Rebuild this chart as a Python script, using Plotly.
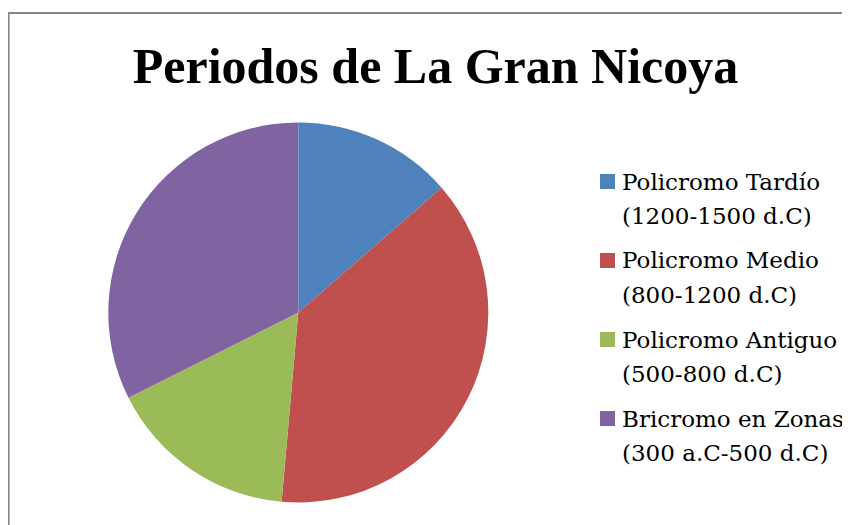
import plotly.graph_objects as go

# Data
names = ["Policromo Tardío", "Policromo Medio", "Policromo Antiguo", "Bricromo en Zonas"]
ranges = ["(1200-1500 d.C)", "(800-1200 d.C)", "(500-800 d.C)", "(300 a.C-500 d.C)"]
values = [13.6, 37.8, 16.2, 32.4]
colors = ["#4F81BD", "#C0504D", "#9BBB59", "#8064A2"]
title_text = "Periodos de La Gran Nicoya"

labels = [n + "<br>" + r for n, r in zip(names, ranges)]

# The page body has an 8px margin; work in screen pixels and convert.
OFF = 8
W, H = 842, 517


def px(x):
    return (x - OFF) / W


def py(y):
    return 1 - (y - OFF) / H


cx, cy, r = 298.3, 312.5, 190

fig = go.Figure(
    go.Pie(
        labels=labels,
        values=values,
        sort=False,
        direction="clockwise",
        rotation=0,
        textinfo="none",
        hoverinfo="label+percent",
        showlegend=False,
        marker=dict(colors=colors, line=dict(width=0)),
        domain=dict(x=[px(cx - r), px(cx + r)], y=[py(cy + r), py(cy - r)]),
    )
)

shapes = [
    dict(
        type="rect",
        xref="paper",
        yref="paper",
        x0=px(8.6),
        x1=1.2,
        y0=-0.2,
        y1=py(13),
        line=dict(color="#868686", width=2),
        fillcolor="rgba(0,0,0,0)",
        layer="above",
    )
]
annotations = []
legend_font = dict(family="DejaVu Serif", size=23, color="black")
for i, (n, rg, c) in enumerate(zip(names, ranges, colors)):
    yc = 181.5 + i * 79
    shapes.append(
        dict(
            type="rect",
            xref="paper",
            yref="paper",
            x0=px(600),
            x1=px(615),
            y0=py(yc + 7.5),
            y1=py(yc - 7.5),
            fillcolor=c,
            line=dict(width=0),
        )
    )
    for j, t in enumerate([n, rg]):
        annotations.append(
            dict(
                xref="paper",
                yref="paper",
                x=px(620),
                y=py(yc + j * 34),
                xanchor="left",
                yanchor="middle",
                text=t,
                showarrow=False,
                font=legend_font,
            )
        )

fig.update_layout(
    width=W,
    height=H,
    margin=dict(l=0, r=0, t=0, b=0),
    paper_bgcolor="white",
    plot_bgcolor="white",
    title=dict(
        text="<b>" + title_text + "</b>",
        x=px(435.5),
        xanchor="center",
        y=1 - 57.5 / H,
        yanchor="middle",
        font=dict(family="Liberation Serif", size=50, color="black"),
    ),
    shapes=shapes,
    annotations=annotations,
)

fig.write_html("out.html")
